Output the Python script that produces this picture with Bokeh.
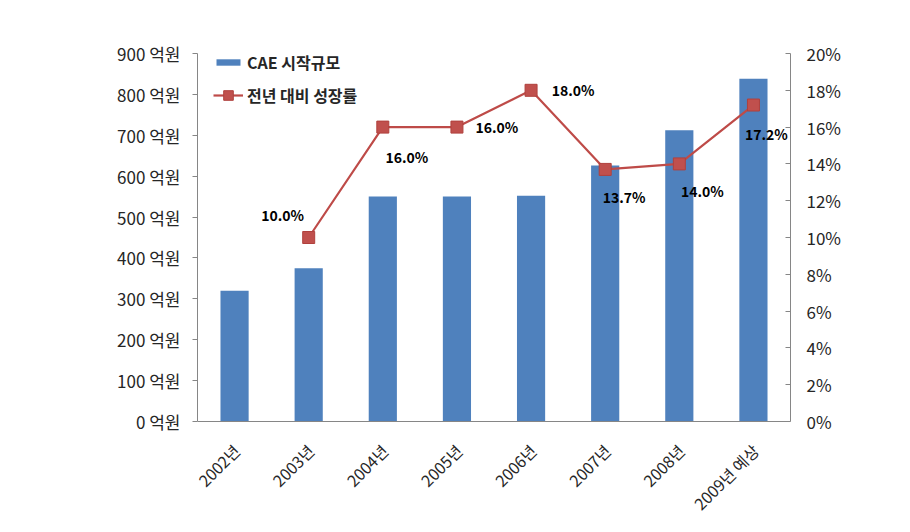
import math
from bokeh.plotting import figure
from bokeh.models import (FactorRange, Range1d, LinearAxis, FixedTicker, ColumnDataSource,
                          LabelSet, Legend, LegendItem, Span)
from bokeh.core.properties import value
from bokeh.embed import file_html
from bokeh.resources import INLINE

# ---- data ----
years = ["2002년", "2003년", "2004년", "2005년", "2006년", "2007년", "2008년", "2009년 예상"]
market = [320, 375, 550, 550, 552, 626, 712, 838]          # 억원
growth_years = years[1:]
growth = [10.0, 16.0, 16.0, 18.0, 13.7, 14.0, 17.2]         # %
growth_labels = ["10.0%", "16.0%", "16.0%", "18.0%", "13.7%", "14.0%", "17.2%"]
left_ticks = [0, 100, 200, 300, 400, 500, 600, 700, 800, 900]
right_ticks = [0, 2, 4, 6, 8, 10, 12, 14, 16, 18, 20]
LEFT_MAX = 900
RIGHT_MAX = 20

# ---- style / layout ----
FONT = "Noto Sans CJK KR"
BAR = "#4F81BD"
LINE = "#BE4B48"
MARK = "#C0504D"
AXIS = "#868686"
TXT = "#262626"
label_dx = [-26, 24, 40, 42, 19, 23, 13]
label_dy = [23, -30, 0, 0, -28, -27, -29]

W, H = 894, 516
TOP, LEFT, RIGHT, BOTTOM = 53, 197, 104, 0
AXIS_PX = 368                      # pixel height of the value axes
frame_h = H - TOP - BOTTOM
below = frame_h - AXIS_PX          # room under the zero line for category labels
ymin_left = -LEFT_MAX * below / AXIS_PX
ymin_right = -RIGHT_MAX * below / AXIS_PX

p = figure(x_range=FactorRange(*years, range_padding=0), y_range=Range1d(ymin_left, LEFT_MAX),
           width=W, height=H, output_backend="svg", toolbar_location=None,
           min_border_left=LEFT, min_border_right=RIGHT, min_border_top=TOP,
           min_border_bottom=BOTTOM)
p.extra_y_ranges = {"pct": Range1d(ymin_right, RIGHT_MAX)}
p.outline_line_color = None
p.xgrid.grid_line_color = None
p.ygrid.grid_line_color = None
p.background_fill_color = "white"
p.xaxis.visible = False

bars = p.vbar(x=years, top=market, bottom=0, width=0.38, fill_color=BAR, line_color=None)

# category axis line at zero
p.add_layout(Span(location=0, dimension="width", line_color=AXIS, line_width=1))

src = ColumnDataSource(dict(x=growth_years, y=growth, t=growth_labels, dx=label_dx,
                            dy=label_dy))
ln = p.line(x="x", y="y", source=src, y_range_name="pct", line_color=LINE, line_width=2.2)
mk = p.scatter(x="x", y="y", source=src, y_range_name="pct", marker="square", size=12,
               fill_color=MARK, line_color="#B0403D", line_width=1)

labels = LabelSet(x="x", y="y", text="t", source=src, y_range_name="pct",
                  x_offset="dx", y_offset="dy", text_align="center", text_baseline="middle",
                  text_font=value(FONT), text_font_size="14px", text_font_style="bold",
                  text_color="black")
p.add_layout(labels)

# category labels (rotated, placed below the zero line)
xsrc = ColumnDataSource(dict(x=years, y=[0] * len(years), t=years))
xlabels = LabelSet(x="x", y="y", text="t", source=xsrc, x_offset=2, y_offset=-26,
                   angle=math.pi / 4, text_align="right", text_baseline="middle",
                   text_font=value(FONT), text_font_size="16px", text_color=TXT)
p.add_layout(xlabels)

# left axis
ya = p.yaxis[0]
ya.ticker = FixedTicker(ticks=left_ticks)
ya.bounds = (0, LEFT_MAX)
ya.major_label_overrides = {t: f"{t} 억원" for t in left_ticks}
ya.axis_line_color = AXIS
ya.major_tick_line_color = AXIS
ya.major_tick_out = 5
ya.major_tick_in = 0
ya.minor_tick_line_color = None
ya.major_label_standoff = 12
ya.major_label_text_font = FONT
ya.major_label_text_font_size = "17px"
ya.major_label_text_color = TXT

# right axis
ra = LinearAxis(y_range_name="pct", ticker=FixedTicker(ticks=right_ticks),
                bounds=(0, RIGHT_MAX))
ra.major_label_overrides = {t: f"{t}%" for t in right_ticks}
ra.axis_line_color = AXIS
ra.major_tick_line_color = AXIS
ra.major_tick_out = 0
ra.major_tick_in = 5
ra.minor_tick_line_color = None
ra.major_label_standoff = 16
ra.major_label_text_font = FONT
ra.major_label_text_font_size = "17px"
ra.major_label_text_color = TXT
p.add_layout(ra, "right")

# legends (located from the frame's bottom-left corner)
leg1 = Legend(items=[LegendItem(label="CAE 시작규모", renderers=[bars])],
              location=(16, below + 344), glyph_width=30, glyph_height=8, label_height=30,
              label_width=140, padding=0, margin=0, spacing=0, label_standoff=4,
              border_line_color=None, background_fill_alpha=0,
              label_text_font=FONT, label_text_font_size="16px",
              label_text_font_style="bold", label_text_color=TXT)
leg2 = Legend(items=[LegendItem(label="전년 대비 성장률", renderers=[ln, mk])],
              location=(16, below + 314), glyph_width=30, glyph_height=24, label_height=24,
              label_width=140, padding=0, margin=0, spacing=0, label_standoff=4,
              border_line_color=None, background_fill_alpha=0,
              label_text_font=FONT, label_text_font_size="16px",
              label_text_font_style="bold", label_text_color=TXT)
p.add_layout(leg1)
p.add_layout(leg2)

open("out.html", "w").write(file_html(p, INLINE))
